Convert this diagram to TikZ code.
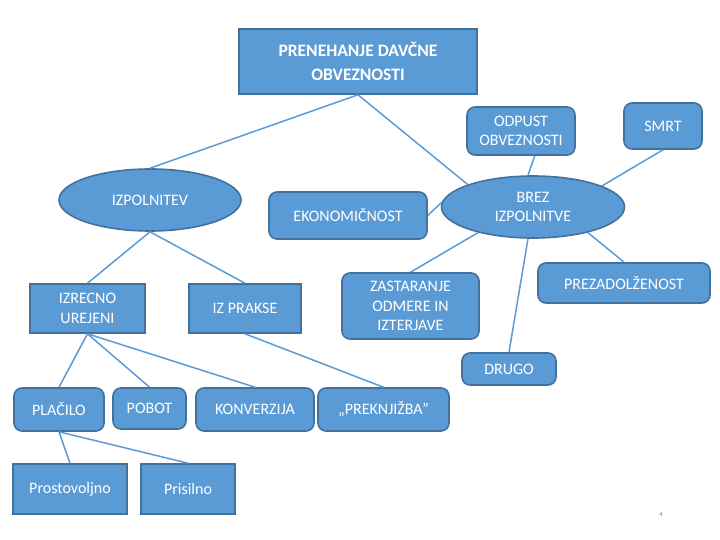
\documentclass[tikz,border=0pt]{standalone}
\usepackage{fontspec}
\setmainfont{Carlito}
\usetikzlibrary{shapes.geometric}
\definecolor{boxfill}{HTML}{5B9BD5}
\definecolor{boxline}{HTML}{41719C}
\definecolor{conn}{HTML}{5B9BD5}
\tikzset{
  base/.style={fill=boxfill,draw=boxline,line width=1.6pt,text=white,align=center,inner sep=1pt,font=\fontsize{16}{19.5}\selectfont},
  sqbox/.style={base,rectangle},
  rbox/.style={base,rectangle,rounded corners=8pt},
  ebox/.style={base,ellipse,inner sep=0pt},
  conn/.style={draw=conn,line width=1.5pt}
}
\begin{document}
\begin{tikzpicture}[x=1pt,y=-1pt]
\useasboundingbox (0,0) rectangle (720,540);
% nodes
\node[sqbox,minimum width=238,minimum height=65,font=\bfseries\fontsize{17.5}{24}\selectfont] (title) at (358,61.5) {PRENEHANJE DAVČNE\\OBVEZNOSTI};
\node[rbox,minimum width=108,minimum height=48] (odpust) at (521,131) {ODPUST\\OBVEZNOSTI};
\node[rbox,minimum width=78,minimum height=46] (smrt) at (663,126) {SMRT};
\node[ebox,minimum width=182,minimum height=62] (izp) at (150,200) {IZPOLNITEV};
\node[rbox,minimum width=158,minimum height=47] (eko) at (348,215.5) {EKONOMIČNOST};
\node[ebox,minimum width=183,minimum height=62] (brez) at (533,207) {BREZ\\IZPOLNITVE};
\node[sqbox,minimum width=115,minimum height=49] (izr) at (87.5,308.5) {IZRECNO\\UREJENI};
\node[sqbox,minimum width=112,minimum height=49] (prakse) at (245,308.5) {IZ PRAKSE};
\node[rbox,minimum width=137,minimum height=66] (zast) at (410.5,306) {ZASTARANJE\\ODMERE IN\\IZTERJAVE};
\node[rbox,minimum width=172,minimum height=40] (prez) at (624,283) {PREZADOLŽENOST};
\node[rbox,minimum width=94,minimum height=32] (drugo) at (509,369) {DRUGO};
\node[rbox,minimum width=90,minimum height=43] (placilo) at (59,409.5) {PLAČILO};
\node[rbox,minimum width=73,minimum height=41] (pobot) at (149.5,408.5) {POBOT};
\node[rbox,minimum width=118,minimum height=43] (konv) at (255,409.5) {KONVERZIJA};
\node[rbox,minimum width=131,minimum height=43] (prek) at (383.5,409.5) {„PREKNJIŽBA”};
\node[sqbox,minimum width=114,minimum height=50] (prost) at (70,489) {Prostovoljno};
\node[sqbox,minimum width=94,minimum height=50] (pris) at (188,489) {Prisilno};
\node[text=gray,font=\fontsize{6.5}{7}\selectfont,inner sep=0pt] (pnum) at (661,514) {4};
% connectors
\path[conn] (title.south) -- (izp.north);
\path[conn] (title.south) -- (brez.161);
\path[conn] (odpust.-61) -- (brez.99);
\path[conn] (smrt.south) -- (brez.17);
\path[conn] (brez.177) -- (eko.east);
\path[conn] (brez.205) -- (zast.north);
\path[conn] (brez.261) -- (drugo.north);
\path[conn] (brez.-25) -- (prez.north);
\path[conn] (izp.south) -- (izr.north);
\path[conn] (izp.south) -- (prakse.north);
\path[conn] (izr.south) -- (placilo.north);
\path[conn] (izr.south) -- (pobot.north);
\path[conn] (izr.south) -- (konv.north);
\path[conn] (prakse.south) -- (prek.north);
\path[conn] (placilo.south) -- (prost.north);
\path[conn] (placilo.south) -- (pris.north);
\end{tikzpicture}
\end{document}
